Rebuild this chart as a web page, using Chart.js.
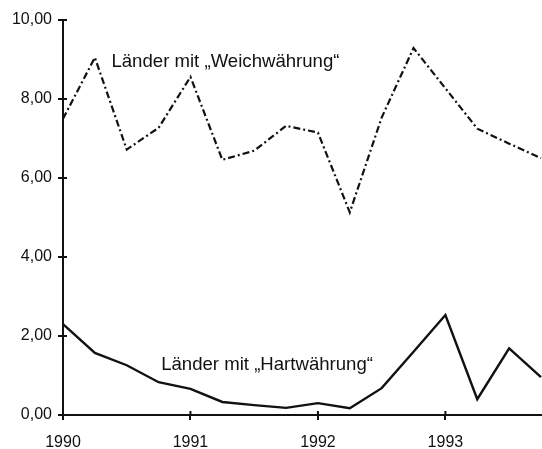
<!DOCTYPE html>
<html>
<head>
    <title>Weich- und Hartwährung</title>
    <script src="https://cdn.jsdelivr.net/npm/chart.js@4.4.1/dist/chart.umd.min.js"></script>
    <style>
        html, body {
            margin: 0;
            padding: 0;
            background-color: #ffffff;
        }
        .wrap {
            width: 542px;
            height: 449px;
        }
    </style>
</head>
<body>
    <div class="wrap">
        <canvas id="myChart" width="542" height="449"></canvas>
    </div>

    <script>
        // Quarters, 1990 to 1993 (x position in years)
        const quarters = [1990, 1990.25, 1990.5, 1990.75, 1991, 1991.25, 1991.5, 1991.75,
                          1992, 1992.25, 1992.5, 1992.75, 1993, 1993.25, 1993.5, 1993.75];
        const weichValues = [7.5, 9.05, 6.72, 7.27, 8.56, 6.46, 6.69, 7.32,
                             7.15, 5.13, 7.53, 9.29, 8.27, 7.25, 6.87, 6.5];
        const hartValues = [2.3, 1.57, 1.26, 0.83, 0.66, 0.33, 0.25, 0.18,
                            0.3, 0.17, 0.68, 1.6, 2.53, 0.4, 1.69, 0.96];
        const yearTicks = [1990, 1991, 1992, 1993];
        const seriesLabels = [
            { text: 'Länder mit „Weichwährung“', x: 1990.38, y: 8.93 },
            { text: 'Länder mit „Hartwährung“', x: 1990.77, y: 1.27 }
        ];

        const ink = '#111111';

        // draws the series names and the small inward tick marks
        const extras = {
            id: 'extras',
            afterDatasetsDraw(chart) {
                const ctx = chart.ctx;
                const xs = chart.scales.x;
                const ys = chart.scales.y;
                ctx.save();
                ctx.strokeStyle = ink;
                ctx.lineWidth = 2;
                yearTicks.forEach(v => {
                    const px = xs.getPixelForValue(v);
                    ctx.beginPath();
                    ctx.moveTo(px, xs.top);
                    ctx.lineTo(px, xs.top - 4);
                    ctx.stroke();
                });
                for (let v = 0; v <= 10; v += 2) {
                    const py = ys.getPixelForValue(v);
                    ctx.beginPath();
                    ctx.moveTo(ys.right, py);
                    ctx.lineTo(ys.right + 4, py);
                    ctx.stroke();
                }
                ctx.fillStyle = ink;
                ctx.font = '18.6px "Liberation Sans", Arial, sans-serif';
                ctx.textBaseline = 'middle';
                ctx.textAlign = 'left';
                seriesLabels.forEach(l => {
                    ctx.fillText(l.text, xs.getPixelForValue(l.x), ys.getPixelForValue(l.y));
                });
                ctx.restore();
            }
        };

        const ctx = document.getElementById('myChart').getContext('2d');
        new Chart(ctx, {
            type: 'line',
            data: {
                datasets: [{
                    label: 'Weichwährung',
                    data: quarters.map((q, i) => ({ x: q, y: weichValues[i] })),
                    borderColor: ink,
                    borderWidth: 2.2,
                    borderDash: [7, 3, 2, 3],
                    pointRadius: 0,
                    tension: 0
                }, {
                    label: 'Hartwährung',
                    data: quarters.map((q, i) => ({ x: q, y: hartValues[i] })),
                    borderColor: ink,
                    borderWidth: 2.4,
                    pointRadius: 0,
                    tension: 0
                }]
            },
            options: {
                responsive: false,
                animation: false,
                clip: false,
                layout: {
                    padding: { top: 20, right: 1, left: 0, bottom: 0 }
                },
                plugins: {
                    legend: { display: false },
                    tooltip: { enabled: false }
                },
                scales: {
                    x: {
                        type: 'linear',
                        min: 1990,
                        max: 1993.75,
                        afterFit: s => { s.height = 34; },
                        afterBuildTicks: s => { s.ticks = yearTicks.map(v => ({ value: v })); },
                        border: { color: ink, width: 2 },
                        grid: {
                            drawOnChartArea: false,
                            color: ink,
                            lineWidth: 2,
                            tickLength: 5
                        },
                        ticks: {
                            color: ink,
                            padding: 13,
                            font: { family: '"Liberation Sans", Arial', size: 16 },
                            callback: v => String(v)
                        }
                    },
                    y: {
                        min: 0,
                        max: 10,
                        afterFit: s => { s.width = 63; },
                        border: { color: ink, width: 2 },
                        grid: {
                            drawOnChartArea: false,
                            color: ink,
                            lineWidth: 2,
                            tickLength: 5
                        },
                        ticks: {
                            stepSize: 2,
                            color: ink,
                            padding: 6,
                            font: { family: '"Liberation Sans", Arial', size: 16 },
                            callback: v => v.toFixed(2).replace('.', ',')
                        }
                    }
                }
            },
            plugins: [extras]
        });
    </script>
</body>
</html>
